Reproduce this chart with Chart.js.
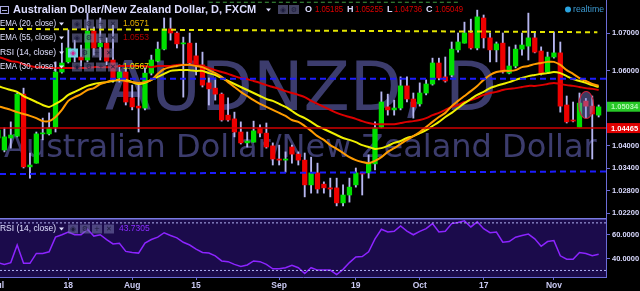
<!DOCTYPE html>
<html>
<head>
<meta charset="utf-8">
<script src="https://cdn.jsdelivr.net/npm/chart.js@4"></script>
<style>
  html, body { margin: 0; padding: 0; background: #000; overflow: hidden; }
  #wrap { position: relative; width: 640px; height: 291px; }
  #main { position: absolute; left: 0; top: 0; }
  #rsi { position: absolute; left: 0; top: 218px; }
</style>
</head>
<body>
<div id="wrap">
  <canvas id="main" width="640" height="218"></canvas>
  <canvas id="rsi" width="640" height="73"></canvas>
</div>
<script>
// daily candles, 1 Jul - 10 Nov (trading days)
const opens = [1.0420,1.0388,1.0420,1.0425,1.0537,1.0343,1.0353,1.0431,1.0431,1.0449,
  1.0596,1.0623,1.0655,1.0636,1.0628,1.0705,1.0663,1.0673,1.0628,1.0580,
  1.0596,1.0527,1.0505,1.0500,1.0593,1.0625,1.0657,1.0711,1.0700,1.0671,
  1.0673,1.0639,1.0615,1.0567,1.0553,1.0537,1.0481,1.0471,1.0436,1.0407,
  1.0409,1.0447,1.0433,1.0399,1.0364,1.0361,1.0396,1.0377,1.0361,1.0295,
  1.0327,1.0297,1.0287,1.0287,1.0247,1.0268,1.0295,1.0327,1.0327,1.0351,
  1.0449,1.0503,1.0495,1.0500,1.0559,1.0524,1.0511,1.0540,1.0564,1.0620,
  1.0583,1.0588,1.0655,1.0673,1.0700,1.0660,1.0740,1.0687,1.0655,1.0673,
  1.0593,1.0612,1.0657,1.0665,1.0687,1.0652,1.0596,1.0636,1.0647,1.0508,
  1.0468,1.0449,1.05185,1.0505,1.0481];
const highs = [1.0452,1.0447,1.0463,1.0540,1.0553,1.0380,1.0436,1.0473,1.0487,1.0623,
  1.0673,1.0708,1.0681,1.0668,1.0753,1.0716,1.0740,1.0687,1.0721,1.0615,
  1.0607,1.0561,1.0561,1.0607,1.0641,1.0676,1.0740,1.0740,1.0703,1.0689,
  1.0700,1.0673,1.0649,1.0580,1.0580,1.0540,1.0527,1.0489,1.0463,1.0436,
  1.0465,1.0455,1.0460,1.0407,1.0401,1.0383,1.0401,1.0383,1.0380,1.0369,
  1.0353,1.0303,1.0313,1.0313,1.0295,1.0313,1.0340,1.0329,1.0375,1.0463,
  1.0543,1.0537,1.0521,1.0583,1.0583,1.0540,1.0567,1.0575,1.0633,1.0633,
  1.0636,1.0676,1.0700,1.0729,1.0737,1.0761,1.0748,1.0700,1.0676,1.0700,
  1.0663,1.0668,1.0700,1.0753,1.0700,1.0663,1.0649,1.0703,1.0676,1.0532,
  1.0516,1.0540,1.05255,1.0532,1.0508];
const lows = [1.0409,1.0383,1.0393,1.0423,1.0340,1.0313,1.0353,1.0415,1.0428,1.0436,
  1.0593,1.0620,1.0623,1.0612,1.0623,1.0641,1.0628,1.0615,1.0569,1.0569,
  1.0508,1.0495,1.0436,1.0495,1.0588,1.0623,1.0655,1.0681,1.0660,1.0529,
  1.0615,1.0588,1.0556,1.0508,1.0521,1.0465,1.0465,1.0423,1.0404,1.0396,
  1.0409,1.0423,1.0393,1.0348,1.0348,1.0329,1.0353,1.0348,1.0263,1.0273,
  1.0273,1.0273,1.0263,1.0239,1.0239,1.0249,1.0289,1.0268,1.0313,1.0335,
  1.0447,1.0481,1.0481,1.0495,1.0516,1.0473,1.0505,1.0535,1.0561,1.0575,
  1.0569,1.0583,1.0649,1.0673,1.0657,1.0655,1.0660,1.0623,1.0623,1.0593,
  1.0591,1.0607,1.0641,1.0628,1.0647,1.0588,1.0593,1.0633,1.0489,1.0460,
  1.0463,1.0449,1.04736,1.0364,1.0476];
const closes = [1.0441,1.0423,1.0428,1.0537,1.0343,1.0348,1.0431,1.0433,1.0447,1.0596,
  1.0620,1.0660,1.0639,1.0628,1.0705,1.0660,1.0673,1.0625,1.0580,1.0596,
  1.0516,1.0503,1.0500,1.0593,1.0628,1.0657,1.0711,1.0700,1.0671,1.0673,
  1.0620,1.0615,1.0561,1.0551,1.0537,1.0468,1.0468,1.0436,1.0407,1.0412,
  1.0439,1.0433,1.0396,1.0364,1.0361,1.0364,1.0377,1.0361,1.0295,1.0327,
  1.0284,1.0287,1.0284,1.0247,1.0268,1.0289,1.0327,1.0324,1.0353,1.0447,
  1.0516,1.0495,1.0500,1.0559,1.0524,1.0503,1.0540,1.0564,1.0620,1.0580,
  1.0572,1.0657,1.0676,1.0700,1.0660,1.0743,1.0687,1.0655,1.0671,1.0596,
  1.0612,1.0657,1.0668,1.0687,1.0649,1.0591,1.0636,1.0647,1.0505,1.0463,
  1.0465,1.0513,1.05049,1.0484,1.0503];

const ema20 = [1.0505,1.0500,1.0495,1.0489,1.0484,1.0479,1.0473,1.0465,1.0465,1.0476,
  1.0495,1.0519,1.0529,1.0537,1.0548,1.0553,1.0564,1.0569,1.0575,1.0575,
  1.0572,1.0569,1.0567,1.0569,1.0575,1.0591,1.0604,1.0609,1.0612,1.0615,
  1.0615,1.0612,1.0609,1.0601,1.0593,1.0583,1.0569,1.0556,1.0543,1.0532,
  1.0521,1.0511,1.0503,1.0495,1.0487,1.0479,1.0468,1.0463,1.0452,1.0439,
  1.0425,1.0415,1.0401,1.0391,1.0380,1.0369,1.0361,1.0356,1.0353,1.0359,
  1.0369,1.0383,1.0393,1.0404,1.0415,1.0425,1.0436,1.0449,1.0463,1.0476,
  1.0487,1.0505,1.0519,1.0532,1.0545,1.0559,1.0575,1.0588,1.0596,1.0599,
  1.0599,1.0601,1.0609,1.0612,1.0617,1.0620,1.0623,1.0623,1.0615,1.0601,
  1.0591,1.0580,1.0572,1.0564,1.0559];
const ema30 = [1.0559,1.0553,1.0548,1.0543,1.0532,1.0524,1.0516,1.0508,1.0503,1.0511,
  1.0521,1.0535,1.0543,1.0551,1.0559,1.0564,1.0567,1.0569,1.0572,1.0575,
  1.0575,1.0569,1.0564,1.0567,1.0575,1.0583,1.0591,1.0599,1.0601,1.0601,
  1.0601,1.0599,1.0599,1.0593,1.0588,1.0580,1.0572,1.0564,1.0556,1.0548,
  1.0540,1.0532,1.0524,1.0519,1.0511,1.0503,1.0492,1.0481,1.0473,1.0463,
  1.0452,1.0444,1.0436,1.0428,1.0420,1.0415,1.0409,1.0401,1.0396,1.0391,
  1.0393,1.0399,1.0407,1.0412,1.0420,1.0425,1.0433,1.0441,1.0452,1.0463,
  1.0476,1.0487,1.0500,1.0513,1.0524,1.0535,1.0543,1.0553,1.0559,1.0564,
  1.0569,1.0575,1.0580,1.0585,1.0588,1.0591,1.0593,1.0596,1.0593,1.0585,
  1.0577,1.0572,1.0567,1.0561,1.0556];
const ema55 = [1.0636,1.0631,1.0625,1.0623,1.0617,1.0612,1.0609,1.0609,1.0607,1.0607,
  1.0607,1.0607,1.0607,1.0607,1.0607,1.0609,1.0609,1.0609,1.0609,1.0612,
  1.0612,1.0612,1.0612,1.0612,1.0609,1.0612,1.0612,1.0612,1.0615,1.0615,
  1.0615,1.0615,1.0612,1.0607,1.0601,1.0596,1.0591,1.0585,1.0580,1.0577,
  1.0572,1.0567,1.0561,1.0556,1.0551,1.0545,1.0540,1.0535,1.0529,1.0519,
  1.0511,1.0503,1.0495,1.0487,1.0481,1.0476,1.0471,1.0465,1.0460,1.0457,
  1.0457,1.0457,1.0457,1.0460,1.0463,1.0465,1.0468,1.0473,1.0481,1.0487,
  1.0495,1.0503,1.0508,1.0516,1.0521,1.0527,1.0535,1.0540,1.0543,1.0548,
  1.0551,1.0553,1.0556,1.0559,1.0559,1.0561,1.0564,1.0567,1.0564,1.0561,
  1.0559,1.0556,1.0553,1.0551,1.0548];
const rsi14 = [36.6,35.1,36.6,51.4,36.0,36.0,44.3,44.3,45.7,58.0,
  60.0,62.3,60.0,60.0,64.6,58.9,60.0,56.0,52.3,52.9,
  46.0,45.1,44.6,53.1,56.0,58.0,61.7,59.4,57.4,53.7,
  51.4,48.0,45.1,44.6,42.3,38.0,37.4,35.1,33.4,34.6,
  38.0,37.4,35.1,31.4,31.4,32.3,34.3,32.3,27.4,32.3,
  30.3,30.3,30.3,26.6,30.9,36.6,41.4,41.7,45.7,56.6,
  64.6,62.3,62.9,67.4,63.1,60.0,62.9,65.1,69.4,62.3,
  62.9,69.4,70.3,71.7,66.6,70.9,65.1,61.7,62.3,53.7,
  54.3,58.0,59.4,60.6,56.6,50.3,54.3,55.1,42.3,39.4,
  39.4,45.1,44.3,42.3,43.7];

const tickIdx = [0, 11, 21, 31, 44, 56, 66, 76, 87];
const tickLabels = ['Jul', '18', 'Aug', '15', 'Sep', '19', 'Oct', '17', 'Nov'];
const priceTicks = [1.07, 1.06, 1.04, 1.034, 1.028, 1.022];
const rsiTicks = [60, 40];
const rsiBands = [70, 30];

// drawn levels [left, right]
const yellowLevel = [1.0711, 1.0702];
const blueHigh = [1.0578, 1.0578];
const blueLow = [1.0324, 1.0331];
const greenTop = [1.0782, 1.0782];
const redLevel = 1.04465;
const lastPrice = 1.05034;
const ohlc = ['1.05185', '1.05255', '1.04736', '1.05049'];
const emaLegend = ['1.0571', '1.0553', '1.0567'];
const rsiLegend = '43.7305';
const markBox = { x0: 90.9, x1: 93.2, y0: 1.0544, y1: 1.0472 };

const xMin = 0.313, xMax = 95.15;
const AXIS = '#6c6cd6';

const pts = arr => arr.map((v, i) => ({ x: i, y: v }));
const seg = (pair, a, b) => [{ x: a, y: pair[0] }, { x: b, y: pair[1] }];
const flat = v => [v, v];

function caret(c, x, y, col) {
  c.fillStyle = col;
  c.beginPath();
  c.moveTo(x, y - 1.5); c.lineTo(x + 5, y - 1.5); c.lineTo(x + 2.5, y + 1.5);
  c.fill();
}
function icon(c, x, y, sym, bg, fg) {
  c.fillStyle = bg;
  c.fillRect(x, y - 4.5, 10, 9);
  c.fillStyle = fg;
  c.font = '7px "DejaVu Sans"';
  c.textAlign = 'center';
  c.fillText(sym, x + 5, y + 0.5);
  c.textAlign = 'left';
}
function legendRow(c, label, y, value, col, xs, firstBg) {
  c.textBaseline = 'middle';
  c.font = '9px "Liberation Sans"';
  c.fillStyle = '#e0e0ff';
  c.fillText(label, 0, y, 56);
  caret(c, 59, y, '#e0e0ff');
  const syms = ['◉', '⚙', '+', '✕'];
  xs.forEach((x, k) => icon(c, x, y, syms[k], k === 0 && firstBg ? firstBg : 'rgba(120,120,175,0.55)',
    k === 0 && firstBg ? '#d0208a' : '#1c1c3c'));
  if (value) {
    c.font = '8.5px "Liberation Sans"';
    c.fillStyle = col;
    c.fillText(value, xs[3] + 15, y);
  }
}

const mainDecor = {
  id: 'mainDecor',
  beforeDraw(chart) {
    const c = chart.ctx;
    c.save();
    c.fillStyle = '#000';
    c.fillRect(0, 0, chart.width, chart.height);
    c.restore();
  },
  beforeDatasetsDraw(chart) {
    const c = chart.ctx;
    c.save();
    c.fillStyle = 'rgba(88,88,160,0.68)';
    c.textBaseline = 'alphabetic';
    c.font = '68px "DejaVu Sans"';
    c.fillText('AUDNZD, D', 105, 110, 392);
    c.font = '32px "DejaVu Sans"';
    c.fillText('Australian Dollar/New Zealand Dollar', 4, 157, 594);
    c.restore();
  },
  afterDatasetsDraw(chart) {
    const c = chart.ctx, xs = chart.scales.x, ys = chart.scales.y;
    const x0 = xs.getPixelForValue(markBox.x0), x1 = xs.getPixelForValue(markBox.x1);
    const y0 = ys.getPixelForValue(markBox.y0), y1 = ys.getPixelForValue(markBox.y1);
    c.save();
    c.beginPath();
    c.ellipse((x0 + x1) / 2, (y0 + y1) / 2, Math.abs(x1 - x0) / 2, Math.abs(y1 - y0) / 2, 0, 0, Math.PI * 2);
    c.fillStyle = 'rgba(130,130,215,0.45)';
    c.fill();
    c.strokeStyle = '#c8203c';
    c.lineWidth = 1.2;
    c.stroke();
    c.restore();
  },
  afterDraw(chart) {
    const c = chart.ctx, ys = chart.scales.y;
    c.save();
    // price tags on the axis
    const tag = (v, bg, fg) => {
      const y = ys.getPixelForValue(v);
      c.fillStyle = bg;
      c.fillRect(607, y - 5, 33, 10);
      c.fillStyle = fg;
      c.font = 'bold 7.5px "Liberation Sans"';
      c.textBaseline = 'middle';
      c.fillText(v.toFixed(5), 611, y + 0.5);
    };
    tag(lastPrice, '#27c827', '#b4f7b4');
    tag(redLevel, '#e00000', '#ffffff');

    // header
    c.strokeStyle = '#a8a8dd';
    c.lineWidth = 1;
    c.strokeRect(0.5, 6.5, 8, 7);
    c.beginPath(); c.moveTo(2, 10.5); c.lineTo(7, 10.5); c.stroke();
    c.textBaseline = 'middle';
    c.font = 'bold 11px "Liberation Sans"';
    c.fillStyle = '#dcdcff';
    c.fillText('Australian Dollar/New Zealand Dollar, D, FXCM', 13, 10, 250);
    caret(c, 266, 10, '#dcdcff');
    icon(c, 278, 9.5, '◉', 'rgba(120,120,175,0.55)', '#1c1c3c');
    icon(c, 289, 9.5, '⚙', 'rgba(120,120,175,0.55)', '#1c1c3c');
    const keys = ['O', 'H', 'L', 'C'], kx = [305, 347, 387, 426], vx = [315, 355, 394, 435];
    keys.forEach((k, i) => {
      c.font = 'bold 9px "Liberation Sans"';
      c.fillStyle = '#dcdcff';
      c.fillText(k, kx[i], 10);
      c.font = '8.5px "Liberation Sans"';
      c.fillStyle = '#e00000';
      c.fillText(ohlc[i], vx[i], 10, 28);
    });
    c.fillStyle = '#2aa4e0';
    c.beginPath(); c.arc(568, 9.5, 3, 0, Math.PI * 2); c.fill();
    c.font = '9px "Liberation Sans"';
    c.fillStyle = '#3d9bd2';
    c.fillText('realtime', 573, 10, 31);

    // indicator legend
    const full = [72, 84, 96, 108], rsiX = [68, 80, 92, 104];
    legendRow(c, 'EMA (20, close)', 24, emaLegend[0], '#e6b000', full);
    legendRow(c, 'EMA (55, close)', 38, emaLegend[1], '#b40000', full);
    legendRow(c, 'RSI (14, close)', 53, null, null, rsiX, '#6fd3e3');
    legendRow(c, 'EMA (30, close)', 67, emaLegend[2], '#e6e600', full);
    c.restore();
  }
};

const rsiDecor = {
  id: 'rsiDecor',
  beforeDraw(chart) {
    const c = chart.ctx, a = chart.chartArea;
    c.save();
    c.fillStyle = '#000';
    c.fillRect(0, 0, chart.width, chart.height);
    c.fillStyle = '#1b0b4b';
    c.fillRect(a.left, a.top, a.right - a.left, a.bottom - a.top);
    c.restore();
  },
  afterDraw(chart) {
    const c = chart.ctx, a = chart.chartArea;
    c.save();
    c.strokeStyle = '#7a7ae2';
    c.lineWidth = 1.5;
    c.beginPath(); c.moveTo(0, a.top + 0.75); c.lineTo(a.right, a.top + 0.75); c.stroke();
    legendRow(c, 'RSI (14, close)', 11, rsiLegend, '#8a2cff', [68, 80, 92, 104]);
    c.restore();
  }
};

const lineDs = (data, color, width, extra) => Object.assign({
  type: 'line', data, borderColor: color, borderWidth: width, pointRadius: 0, fill: false
}, extra || {});

new Chart(document.getElementById('main'), {
  type: 'bar',
  data: {
    datasets: [
      lineDs(seg(yellowLevel, xMin, 93.8), '#e4e400', 2, { borderDash: [5, 4], order: 1 }),
      lineDs(seg(blueHigh, xMin, xMax), '#1c1cff', 2, { borderDash: [6, 4], order: 1 }),
      lineDs(seg(blueLow, xMin, xMax), '#1c1cff', 2, { borderDash: [6, 4], order: 1 }),
      lineDs(seg(greenTop, 33, 72), '#3f9a3f', 1, { borderDash: [4, 3], order: 1 }),
      lineDs(seg(flat(redLevel), xMin, xMax), '#d00000', 1.5, { order: 2 }),
      lineDs(pts(ema20), '#ff9c00', 2, { tension: 0.3, order: 5 }),
      lineDs(pts(ema30), '#f0f000', 2, { tension: 0.3, order: 6 }),
      lineDs(pts(ema55), '#dc0000', 2, { tension: 0.3, order: 7 }),
      {
        data: opens.map((o, i) => ({ x: i, y: [lows[i], highs[i]] })),
        backgroundColor: '#b6b6f0',
        barThickness: 1.2, maxBarThickness: 1.2, grouped: false, order: 10
      },
      {
        data: opens.map((o, i) => ({ x: i, y: [o, closes[i]] })),
        backgroundColor: opens.map((o, i) => closes[i] >= o ? '#00e000' : '#ee0000'),
        barThickness: 4.6, maxBarThickness: 4.6, minBarLength: 1, grouped: false, order: 9
      }
    ]
  },
  options: {
    responsive: false,
    animation: false,
    events: [],
    layout: { padding: 0 },
    plugins: { legend: { display: false }, tooltip: { enabled: false } },
    scales: {
      x: { type: 'linear', min: xMin, max: xMax, offset: false, display: false },
      y: {
        position: 'right', min: 1.02067, max: 1.0788,
        afterBuildTicks: s => { s.ticks = priceTicks.map(v => ({ value: v })); },
        afterFit: s => { s.width = 34; s.paddingTop = 0; s.paddingBottom = 0; },
        ticks: {
          color: '#dadaff', padding: 2, autoSkip: false,
          font: { size: 7.5, weight: 'bold', family: 'Liberation Sans' },
          callback: v => Number(v).toFixed(5)
        },
        grid: { drawOnChartArea: false, drawTicks: true, tickLength: 4, color: AXIS },
        border: { display: true, color: AXIS }
      }
    }
  },
  plugins: [mainDecor]
});

new Chart(document.getElementById('rsi'), {
  type: 'line',
  data: {
    datasets: [
      lineDs(seg(flat(rsiBands[0]), xMin, xMax), '#b2b2f2', 1, { borderDash: [2, 2] }),
      lineDs(seg(flat(rsiBands[1]), xMin, xMax), '#b2b2f2', 1, { borderDash: [2, 2] }),
      lineDs(pts(rsi14), '#8c24ff', 1.5)
    ]
  },
  options: {
    responsive: false,
    animation: false,
    events: [],
    layout: { padding: 0 },
    plugins: { legend: { display: false }, tooltip: { enabled: false } },
    scales: {
      x: {
        type: 'linear', min: xMin, max: xMax, offset: false,
        afterBuildTicks: s => { s.ticks = tickIdx.map(v => ({ value: v })); },
        afterFit: s => { s.height = 14; s.paddingLeft = 0; s.paddingRight = 0; },
        ticks: {
          color: '#cacaf2', padding: 1, autoSkip: false, maxRotation: 0,
          font: { size: 8.5, weight: 'bold', family: 'Liberation Sans' },
          callback: v => tickLabels[tickIdx.indexOf(v)] || ''
        },
        grid: { drawOnChartArea: false, drawTicks: true, tickLength: 3, color: AXIS },
        border: { display: true, color: AXIS }
      },
      y: {
        position: 'right', min: 24.5, max: 74.1,
        afterBuildTicks: s => { s.ticks = rsiTicks.map(v => ({ value: v })); },
        afterFit: s => { s.width = 34; s.paddingTop = 0; s.paddingBottom = 0; },
        ticks: {
          color: '#dadaff', padding: 2, autoSkip: false,
          font: { size: 7.5, weight: 'bold', family: 'Liberation Sans' },
          callback: v => Number(v).toFixed(4)
        },
        grid: { drawOnChartArea: false, drawTicks: true, tickLength: 4, color: AXIS },
        border: { display: true, color: AXIS }
      }
    }
  },
  plugins: [rsiDecor]
});
</script>
</body>
</html>
